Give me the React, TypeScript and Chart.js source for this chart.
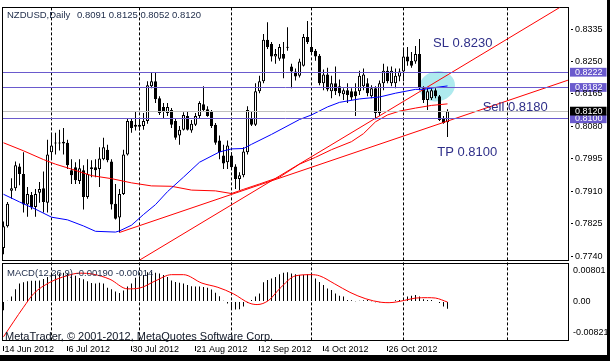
import React, { useEffect, useRef } from 'react';
import { Chart, registerables } from 'chart.js';

Chart.register(...registerables);

const FONT = '"Liberation Sans", Arial, Helvetica, sans-serif';

// ---------- data ----------
const dateLabels = ['14 Jun 2012', '6 Jul 2012', '30 Jul 2012', '21 Aug 2012', '12 Sep 2012', '4 Oct 2012', '26 Oct 2012'];
const dateLabelBars = [0, 16, 32, 48, 64, 80, 96];
const gridBars = [12, 34, 57, 77, 100, 126];

const opens = [
  0.7761, 0.7818, 0.7911, 0.7918, 0.7975, 0.7955, 0.7875, 0.7900, 0.7869, 0.7906,
  0.7918, 0.7880, 0.8012, 0.8035, 0.8037, 0.8035, 0.8037, 0.7965, 0.7973, 0.7937,
  0.7965, 0.7895, 0.7973, 0.7973, 0.7968, 0.7994, 0.8019, 0.7988, 0.7877, 0.7841,
  0.7903, 0.8006, 0.8094, 0.8084, 0.8079, 0.8081, 0.8094, 0.8185, 0.8198, 0.8154,
  0.8131, 0.8115, 0.8123, 0.8094, 0.8056, 0.8071, 0.8107, 0.8069, 0.8084, 0.8107,
  0.8138, 0.8125, 0.8118, 0.8084, 0.8043, 0.8004, 0.7986, 0.8004, 0.7975, 0.7942,
  0.7952, 0.8012, 0.8102, 0.8084, 0.8172, 0.8198, 0.8307, 0.8296, 0.8263, 0.8257,
  0.8270, 0.8286, 0.8237, 0.8224, 0.8213, 0.8239, 0.8314, 0.8288, 0.8278, 0.8265,
  0.8193, 0.8216, 0.8172, 0.8193, 0.8185, 0.8164, 0.8175, 0.8172, 0.8172, 0.8172,
  0.8185, 0.8193, 0.8159, 0.8180, 0.8115, 0.8193, 0.8226, 0.8193, 0.8193, 0.8211,
  0.8224, 0.8263, 0.8252, 0.8250, 0.8270, 0.8180, 0.8149, 0.8154, 0.8175, 0.8159,
  0.8102, 0.8091,
];
const highs = [
  0.7831, 0.7882, 0.7944, 0.7988, 0.7983, 0.8012, 0.7921, 0.7908, 0.7916, 0.7934,
  0.7962, 0.8045, 0.8058, 0.8063, 0.8071, 0.8076, 0.8045, 0.7994, 0.7986, 0.7994,
  0.7978, 0.7994, 0.7991, 0.7994, 0.8025, 0.8050, 0.8032, 0.7994, 0.7929, 0.7916,
  0.8019, 0.8102, 0.8102, 0.8120, 0.8102, 0.8115, 0.8198, 0.8221, 0.8221, 0.8159,
  0.8141, 0.8141, 0.8128, 0.8102, 0.8081, 0.8117, 0.8120, 0.8097, 0.8115, 0.8146,
  0.8185, 0.8133, 0.8123, 0.8089, 0.8056, 0.8032, 0.8043, 0.8012, 0.7981, 0.7960,
  0.8025, 0.8133, 0.8120, 0.8193, 0.8213, 0.8322, 0.8353, 0.8301, 0.8283, 0.8296,
  0.8301, 0.8340, 0.8244, 0.8232, 0.8257, 0.8322, 0.8356, 0.8340, 0.8283, 0.8270,
  0.8229, 0.8234, 0.8213, 0.8237, 0.8203, 0.8180, 0.8193, 0.8180, 0.8193, 0.8226,
  0.8232, 0.8206, 0.8188, 0.8185, 0.8200, 0.8244, 0.8237, 0.8237, 0.8232, 0.8232,
  0.8281, 0.8288, 0.8275, 0.8291, 0.8309, 0.8185, 0.8180, 0.8180, 0.8180, 0.8162,
  0.8107, 0.8125,
];
const lows = [
  0.7745, 0.7815, 0.7890, 0.7911, 0.7926, 0.7854, 0.7843, 0.7862, 0.7843, 0.7880,
  0.7854, 0.7854, 0.7996, 0.8006, 0.8017, 0.8006, 0.7968, 0.7929, 0.7929, 0.7929,
  0.7862, 0.7890, 0.7947, 0.7947, 0.7921, 0.7991, 0.7986, 0.7862, 0.7836, 0.7802,
  0.7900, 0.8004, 0.8063, 0.8069, 0.8069, 0.8071, 0.8087, 0.8180, 0.8141, 0.8110,
  0.8102, 0.8107, 0.8076, 0.8045, 0.8032, 0.8069, 0.8069, 0.8063, 0.8081, 0.8102,
  0.8120, 0.8105, 0.8076, 0.8032, 0.7994, 0.7968, 0.7968, 0.7968, 0.7916, 0.7913,
  0.7947, 0.8006, 0.8081, 0.8081, 0.8167, 0.8193, 0.8283, 0.8250, 0.8244, 0.8252,
  0.8206, 0.8278, 0.8180, 0.8200, 0.8208, 0.8237, 0.8296, 0.8270, 0.8252, 0.8188,
  0.8175, 0.8172, 0.8154, 0.8162, 0.8159, 0.8149, 0.8141, 0.8149, 0.8107, 0.8162,
  0.8175, 0.8159, 0.8154, 0.8099, 0.8107, 0.8175, 0.8193, 0.8185, 0.8180, 0.8198,
  0.8198, 0.8239, 0.8234, 0.8244, 0.8175, 0.8141, 0.8123, 0.8149, 0.8154, 0.8094,
  0.8087, 0.8052,
];
const closes = [
  0.7818, 0.7877, 0.7918, 0.7978, 0.7955, 0.7875, 0.7903, 0.7869, 0.7903, 0.7916,
  0.7882, 0.8006, 0.8030, 0.8037, 0.8035, 0.8040, 0.7978, 0.7952, 0.7939, 0.7970,
  0.7895, 0.7955, 0.7968, 0.7965, 0.7996, 0.8025, 0.7991, 0.7875, 0.7838, 0.7903,
  0.8006, 0.8094, 0.8076, 0.8079, 0.8084, 0.8094, 0.8188, 0.8198, 0.8151, 0.8115,
  0.8118, 0.8131, 0.8084, 0.8050, 0.8071, 0.8110, 0.8071, 0.8087, 0.8107, 0.8141,
  0.8123, 0.8107, 0.8081, 0.8037, 0.8012, 0.7983, 0.8030, 0.7973, 0.7942, 0.7952,
  0.8014, 0.8123, 0.8084, 0.8172, 0.8198, 0.8307, 0.8288, 0.8263, 0.8270, 0.8288,
  0.8257, 0.8288, 0.8224, 0.8211, 0.8250, 0.8314, 0.8301, 0.8275, 0.8263, 0.8193,
  0.8216, 0.8177, 0.8193, 0.8172, 0.8167, 0.8175, 0.8162, 0.8156, 0.8159, 0.8213,
  0.8216, 0.8167, 0.8180, 0.8115, 0.8193, 0.8226, 0.8198, 0.8226, 0.8213, 0.8224,
  0.8263, 0.8250, 0.8239, 0.8270, 0.8180, 0.8149, 0.8172, 0.8175, 0.8159, 0.8097,
  0.8089, 0.8120,
];

const maBlueBars = [0, 4, 8, 12, 16, 20, 23, 28, 29, 32, 35, 38, 41, 45, 49, 54, 57, 60, 62, 67, 74, 77, 81, 84, 89, 94, 98, 103, 105, 108, 111];
const maBlueVals = [0.7902, 0.7882, 0.7863, 0.7842, 0.7835, 0.7819, 0.7805, 0.7803, 0.7806, 0.7821, 0.7849, 0.7875, 0.7909, 0.7947, 0.7986, 0.8013, 0.8021, 0.8022, 0.8033, 0.8059, 0.8098, 0.8110, 0.8131, 0.8143, 0.8152, 0.8157, 0.8167, 0.8177, 0.8177, 0.8182, 0.8186];

const maRedBars = [0, 5, 10, 13, 17, 22, 27, 32, 37, 42, 47, 53, 57, 60, 64, 69, 74, 78, 82, 87, 90, 93, 96, 99, 103, 107, 111];
const maRedVals = [0.8037, 0.8016, 0.7993, 0.7981, 0.7968, 0.7951, 0.7943, 0.7932, 0.7924, 0.7923, 0.7913, 0.7911, 0.7904, 0.7915, 0.7929, 0.7947, 0.7981, 0.7999, 0.8019, 0.8040, 0.8061, 0.8092, 0.8110, 0.8120, 0.8128, 0.8135, 0.8139];

// trend lines: [bar, price] anchors
const trendSteep = [[34.1, 0.7730], [139.1, 0.8392]];
const trendSell = [[29, 0.7802], [141.1, 0.8201]];

const levelLines = [0.8222, 0.8182, 0.8100];
const bidLevel = 0.8120;

const priceTicks = [0.7740, 0.7825, 0.7910, 0.7995, 0.8080, 0.8165, 0.8250, 0.8335];
const macdTicks = [0.00801, 0, -0.00821];

const macdMain = [
  -0.0023, 0.0002, 0.0013, 0.0032, 0.0047, 0.0050, 0.0053, 0.0054, 0.0054, 0.0055,
  0.0059, 0.0064, 0.0069, 0.0071, 0.0073, 0.0075, 0.0073, 0.0071, 0.0067, 0.0061,
  0.0058, 0.0053, 0.0048, 0.0047, 0.0049, 0.0047, 0.0036, 0.0032, 0.0026, 0.0022,
  0.0029, 0.0039, 0.0047, 0.0062, 0.0066, 0.0069, 0.0076, 0.0077, 0.0075, 0.0073,
  0.0069, 0.0064, 0.0055, 0.0051, 0.0049, 0.0047, 0.0043, 0.0040, 0.0039, 0.0039,
  0.0038, 0.0036, 0.0031, 0.0023, 0.0014, 0.0002, -0.0005, -0.0017, -0.0021, -0.0020,
  -0.0013, -0.0004, 0.0004, 0.0013, 0.0021, 0.0050, 0.0056, 0.0060, 0.0064, 0.0071,
  0.0075, 0.0076, 0.0073, 0.0071, 0.0069, 0.0070, 0.0071, 0.0069, 0.0060, 0.0051,
  0.0043, 0.0034, 0.0030, 0.0021, 0.0015, 0.0013, 0.0004, 0.0003, 0.0001, 0.0002,
  0.0003, 0.0004, 0.0001, -0.0002, -0.0002, -0.0002, -0.0001, 0.0000, 0.0003, 0.0004,
  0.0008, 0.0013, 0.0015, 0.0017, 0.0013, 0.0006, 0.0004, 0.0004, 0.0000, -0.0004,
  -0.0013, -0.0019,
];
const signalBars = [0, 2.5, 5, 7.5, 11.6, 15.8, 19, 22.5, 26.6, 31, 34, 38, 42, 45, 49.6, 53.6, 57.5, 61.4, 63.4, 66.3, 69, 73, 76.9, 79, 82.8, 86.6, 90.6, 94.4, 96.4, 100.3, 103, 106, 108, 111];
const signalVals = [-0.0092, -0.0053, -0.0015, 0.0020, 0.0050, 0.0067, 0.0074, 0.0071, 0.0058, 0.0033, 0.0035, 0.0054, 0.0070, 0.0070, 0.0048, 0.0037, 0.0020, -0.0004, -0.0008, 0.0003, 0.0033, 0.0067, 0.0070, 0.0067, 0.0046, 0.0024, 0.0007, -0.0002, -0.0003, 0.0003, 0.0009, 0.0010, 0.0009, -0.00014];

const notes = [
  { text: 'SL 0.8230', bar: 107.4, price: 0.82893 },
  { text: 'Sell 0.8180', bar: 119.8, price: 0.81213 },
  { text: 'TP 0.8100', bar: 108.45, price: 0.80035 },
];
const zone = { bar: 108.4, price: 0.81852 };

const titleSymbol = 'NZDUSD,Daily';
const titleValues = '0.8091 0.8125 0.8052 0.8120';
const macdTitle = 'MACD(12,26,9) -0.00190 -0.00014';
const copyright = 'MetaTrader, \u00A9 2001-2012, MetaQuotes Software Corp.';

// ---------- layout constants ----------
const X_MIN = -0.375;
const X_MAX = 141.125;
const PRICE_MIN = 0.77283;
const PRICE_MAX = 0.83919;
const MACD_MIN = -0.0103;
const MACD_MAX = 0.01068;

const SLATE = '#6A5ACD';
const specialTicks: { v: number; bg: string; fg: string }[] = [
  { v: 0.8222, bg: SLATE, fg: '#ffffff' },
  { v: 0.8182, bg: SLATE, fg: '#ffffff' },
  { v: 0.8100, bg: SLATE, fg: '#ffffff' },
  { v: 0.8120, bg: '#000000', fg: '#ffffff' },
];
const findSpecial = (v: number) => specialTicks.find((s) => Math.abs(s.v - v) < 1e-7);

const framePlugin = {
  id: 'mtFrame',
  beforeDraw(chart: any) {
    const { ctx, width, height } = chart;
    ctx.save();
    ctx.fillStyle = '#ffffff';
    ctx.fillRect(0, 0, width, height);
    ctx.fillStyle = '#000000';
    ctx.fillRect(607, 0, width - 607, height);
    ctx.fillRect(0, 355, width, height - 355);
    ctx.restore();
  },
  beforeDatasetsDraw(chart: any) {
    const { ctx } = chart;
    const sx = chart.scales.x;
    const sy = chart.scales.y;
    const sm = chart.scales.y2;
    ctx.save();
    // highlighted zone
    ctx.fillStyle = '#AEEAEE';
    ctx.beginPath();
    ctx.ellipse(sx.getPixelForValue(zone.bar), sy.getPixelForValue(zone.price), 18, 15, -0.2, 0, Math.PI * 2);
    ctx.fill();
    // dotted vertical grid
    ctx.strokeStyle = '#000000';
    ctx.lineWidth = 1;
    ctx.setLineDash([3, 2]);
    for (const b of gridBars) {
      const px = Math.floor(sx.getPixelForValue(b)) + 0.5;
      ctx.beginPath();
      ctx.moveTo(px, sy.top);
      ctx.lineTo(px, sm.bottom);
      ctx.stroke();
    }
    ctx.setLineDash([]);
    // panel frames
    const L = Math.floor(sx.left) + 0.5;
    const R = Math.floor(sx.right) + 0.5;
    const t1 = Math.floor(sy.top) + 0.5;
    const b1 = Math.floor(sy.bottom) + 0.5;
    const t2 = Math.round(sm.top + 2.5) + 0.5;
    const b2 = Math.floor(sm.bottom) - 0.5;
    ctx.strokeRect(L, t1, R - L, b1 - t1);
    ctx.strokeRect(L, t2, R - L, b2 - t2);
    ctx.restore();
  },
  afterDatasetsDraw(chart: any) {
    const { ctx } = chart;
    const sx = chart.scales.x;
    const sy = chart.scales.y;
    const sm = chart.scales.y2;
    ctx.save();
    // horizontal price levels (crisp 1px)
    ctx.lineWidth = 1;
    const hline = (v: number, color: string) => {
      const py = Math.round(sy.getPixelForValue(v) - 0.5) + 0.5;
      ctx.strokeStyle = color;
      ctx.beginPath();
      ctx.moveTo(sx.left + 1, py);
      ctx.lineTo(sx.right, py);
      ctx.stroke();
    };
    hline(bidLevel, '#C0C0C0');
    for (const lv of levelLines) hline(lv, SLATE);

    ctx.font = `13px ${FONT}`;
    ctx.fillStyle = '#2e2e88';
    ctx.textBaseline = 'alphabetic';
    ctx.textAlign = 'left';
    for (const n of notes) {
      ctx.fillText(n.text, sx.getPixelForValue(n.bar), sy.getPixelForValue(n.price));
    }
    ctx.fillStyle = '#1c2a48';
    ctx.font = `9.5px ${FONT}`;
    ctx.textBaseline = 'middle';
    ctx.fillText(titleSymbol, sx.left + 5, sy.top + 8);
    ctx.fillText(titleValues, sx.left + 75, sy.top + 8);
    ctx.fillText(macdTitle, sx.left + 5, sm.top + 13);
    ctx.fillStyle = '#101828';
    ctx.font = `11px ${FONT}`;
    ctx.textBaseline = 'alphabetic';
    ctx.fillText(copyright, sx.left + 3, sm.bottom - 1);
    ctx.restore();
  },
};

export default function App() {
  const ref = useRef<HTMLCanvasElement>(null);

  useEffect(() => {
    document.body.style.margin = '0';
    const canvas = ref.current;
    if (!canvas) return;

    const idx = opens.map((_, i) => i);
    const xy = (pairs: number[][]) => pairs.map(([x, y]) => ({ x, y }));
    const lineBase = {
      type: 'line' as const,
      xAxisID: 'x',
      yAxisID: 'y',
      pointRadius: 0,
      borderWidth: 1,
      tension: 0,
      fill: false,
    };

    const datasets: any[] = [
      { ...lineBase, label: 'MA blue', data: maBlueBars.map((b, i) => ({ x: b, y: maBlueVals[i] })), borderColor: '#0000FF' },
      { ...lineBase, label: 'MA red', data: maRedBars.map((b, i) => ({ x: b, y: maRedVals[i] })), borderColor: '#FF0000' },
      { ...lineBase, label: 'Trend steep', data: xy(trendSteep), borderColor: '#FF0000' },
      { ...lineBase, label: 'Trend sell', data: xy(trendSell), borderColor: '#FF0000' },
      {
        ...lineBase,
        label: 'Signal',
        yAxisID: 'y2',
        data: signalBars.map((b, i) => ({ x: b, y: signalVals[i] })),
        borderColor: '#FF0000',
        cubicInterpolationMode: 'monotone',
      },
      {
        type: 'bar',
        label: 'MACD',
        xAxisID: 'x',
        yAxisID: 'y2',
        data: macdMain.map((v, i) => ({ x: i, y: v })),
        backgroundColor: '#000000',
        borderWidth: 0,
        barThickness: 1,
        grouped: false,
        inflateAmount: 0,
      },
      {
        type: 'bar',
        label: 'Body',
        xAxisID: 'x',
        yAxisID: 'y',
        data: idx.map((i) => ({ x: i, y: [opens[i], closes[i]] })),
        backgroundColor: idx.map((i) => (closes[i] >= opens[i] ? '#ffffff' : '#000000')),
        borderColor: '#000000',
        borderWidth: 1,
        borderSkipped: false,
        barThickness: 3,
        minBarLength: 1,
        grouped: false,
        inflateAmount: 0,
      },
      {
        type: 'bar',
        label: 'Wick',
        xAxisID: 'x',
        yAxisID: 'y',
        data: idx.map((i) => ({ x: i, y: [lows[i], highs[i]] })),
        backgroundColor: '#000000',
        borderWidth: 0,
        barThickness: 1,
        grouped: false,
        inflateAmount: 0,
      },
    ];

    const chart = new Chart(canvas, {
      type: 'bar',
      data: { datasets },
      plugins: [framePlugin],
      options: {
        responsive: false,
        animation: false,
        events: [],
        devicePixelRatio: 1,
        layout: { padding: { left: 2, top: 3, right: 0, bottom: 0 } },
        plugins: { legend: { display: false }, tooltip: { enabled: false }, title: { display: false } },
        scales: {
          x: {
            type: 'linear',
            position: 'bottom',
            min: X_MIN,
            max: X_MAX,
            offset: false,
            afterBuildTicks: (s: any) => {
              s.ticks = dateLabelBars.map((v) => ({ value: v }));
            },
            afterFit: (s: any) => {
              s.height = 20;
            },
            grid: {
              offset: false,
              drawOnChartArea: false,
              drawTicks: true,
              tickLength: 10,
              tickBorderDash: [0, 5, 5, 100],
              color: '#000000',
            },
            border: { display: false },
            ticks: {
              autoSkip: false,
              maxRotation: 0,
              minRotation: 0,
              align: 'start',
              labelOffset: 1,
              padding: -7,
              color: '#000000',
              font: { family: FONT, size: 9 },
              callback: (v: any) => {
                const k = dateLabelBars.indexOf(Number(v));
                return k >= 0 ? dateLabels[k] : '';
              },
            },
          },
          y: {
            type: 'linear',
            position: 'right',
            stack: 'panels',
            stackWeight: 256.5,
            min: PRICE_MIN,
            max: PRICE_MAX,
            afterBuildTicks: (s: any) => {
              s.ticks = [...specialTicks.map((t) => t.v), ...priceTicks].map((v) => ({ value: v }));
            },
            afterFit: (s: any) => {
              s.width = 42;
            },
            grid: {
              drawOnChartArea: false,
              drawTicks: true,
              tickLength: 5,
              tickBorderDash: [0, 3, 2, 50],
              color: '#000000',
            },
            border: { display: false },
            ticks: {
              autoSkip: false,
              padding: 2,
              font: { family: FONT, size: 9 },
              color: (c: any) => {
                const s = c.tick ? findSpecial(c.tick.value) : undefined;
                return s ? s.fg : '#000000';
              },
              showLabelBackdrop: (c: any) => !!(c.tick && findSpecial(c.tick.value)),
              backdropColor: (c: any) => {
                const s = c.tick ? findSpecial(c.tick.value) : undefined;
                return s ? s.bg : 'rgba(0,0,0,0)';
              },
              backdropPadding: { left: 5, right: 4, top: -1, bottom: -1 },
              callback: (v: any) => Number(v).toFixed(4),
            },
          },
          y2: {
            type: 'linear',
            position: 'right',
            stack: 'panels',
            stackWeight: 81.5,
            min: MACD_MIN,
            max: MACD_MAX,
            afterBuildTicks: (s: any) => {
              s.ticks = macdTicks.map((v) => ({ value: v }));
            },
            afterFit: (s: any) => {
              s.width = 42;
            },
            grid: {
              drawOnChartArea: false,
              drawTicks: true,
              tickLength: 5,
              color: 'rgba(0,0,0,0)',
            },
            border: { display: false },
            ticks: {
              autoSkip: false,
              padding: 0,
              color: '#000000',
              font: { family: FONT, size: 9 },
              callback: (v: any) => (Number(v) === 0 ? '0.00' : Number(v).toFixed(5)),
            },
          },
        },
      } as any,
    });

    return () => chart.destroy();
  }, []);

  return (
    <div style={{ width: 610, height: 361, position: 'relative' }}>
      <canvas ref={ref} width={610} height={361} style={{ display: 'block' }} />
    </div>
  );
}
